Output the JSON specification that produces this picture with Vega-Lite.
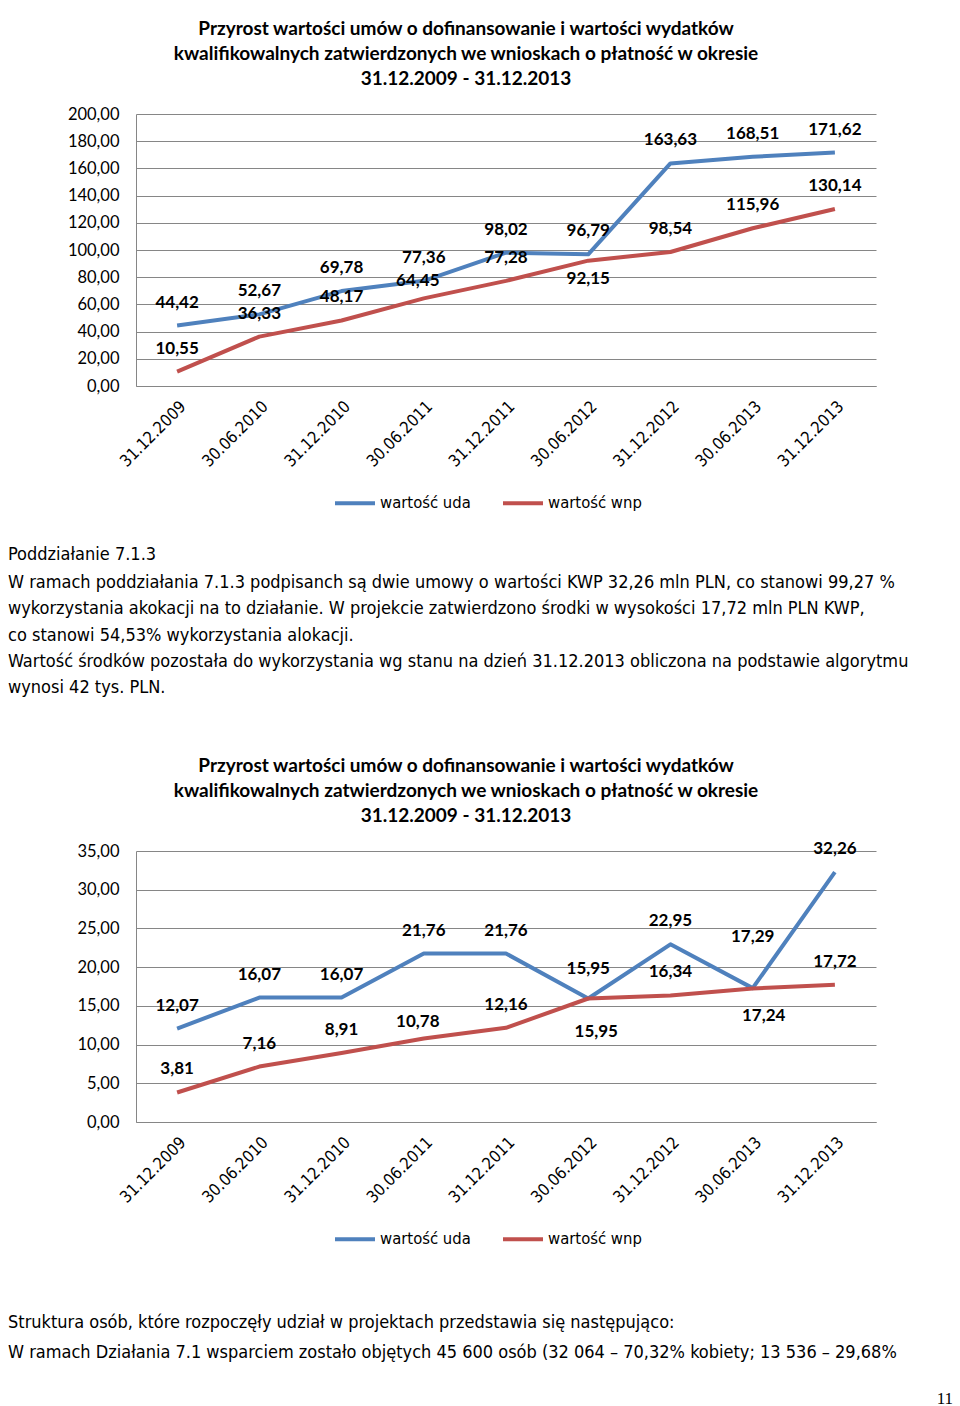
{
  "$schema": "https://vega.github.io/schema/vega-lite/v6.json",
  "padding": {"left": 8, "top": 20, "right": 0, "bottom": 0},
  "background": "white",
  "config": {
    "locale": {"number": {"decimal": ",", "thousands": " ", "grouping": [3], "currency": ["", " zł"]}},
    "view": {"stroke": null},
    "axisX": {"labelAngle": -45, "ticks": false, "domainColor": "#868686", "labelFont": "Liberation Sans Narrow, DejaVu Sans Condensed", "labelFontSize": 16.5, "labelColor": "black", "labelPadding": 12, "title": null},
    "axisY": {"ticks": false, "domainColor": "#868686", "gridColor": "#868686", "labelFont": "Lato", "labelFontSize": 16.5, "labelColor": "black", "labelPadding": 17},
    "legend": {"title": null, "symbolType": "stroke", "symbolStrokeWidth": 4, "symbolSize": 1600, "labelFont": "Liberation Sans Narrow, DejaVu Sans Condensed", "labelFontSize": 16.5, "labelColor": "black", "columnPadding": 24, "labelOffset": 3},
    "title": {"font": "Lato", "fontSize": 19, "fontWeight": "bold", "lineHeight": 25, "color": "black", "offset": 17, "dx": -40},
    "text": {"font": "Lato", "fontSize": 17, "fontWeight": "bold", "color": "black"}
  },
  "resolve": {"scale": {"color": "independent"}, "legend": {"color": "independent"}},
  "datasets": {
    "c1": [
      {"d": "31.12.2009", "s": "wartość uda", "v": 44.42},
      {"d": "30.06.2010", "s": "wartość uda", "v": 52.67},
      {"d": "31.12.2010", "s": "wartość uda", "v": 69.78},
      {"d": "30.06.2011", "s": "wartość uda", "v": 77.36},
      {"d": "31.12.2011", "s": "wartość uda", "v": 98.02},
      {"d": "30.06.2012", "s": "wartość uda", "v": 96.79},
      {"d": "31.12.2012", "s": "wartość uda", "v": 163.63},
      {"d": "30.06.2013", "s": "wartość uda", "v": 168.51},
      {"d": "31.12.2013", "s": "wartość uda", "v": 171.62},
      {"d": "31.12.2009", "s": "wartość wnp", "v": 10.55},
      {"d": "30.06.2010", "s": "wartość wnp", "v": 36.33},
      {"d": "31.12.2010", "s": "wartość wnp", "v": 48.17},
      {"d": "30.06.2011", "s": "wartość wnp", "v": 64.45},
      {"d": "31.12.2011", "s": "wartość wnp", "v": 77.28},
      {"d": "30.06.2012", "s": "wartość wnp", "v": 92.15},
      {"d": "31.12.2012", "s": "wartość wnp", "v": 98.54},
      {"d": "30.06.2013", "s": "wartość wnp", "v": 115.96},
      {"d": "31.12.2013", "s": "wartość wnp", "v": 130.14}
    ],
    "c2": [
      {"d": "31.12.2009", "s": "wartość uda", "v": 12.07},
      {"d": "30.06.2010", "s": "wartość uda", "v": 16.07},
      {"d": "31.12.2010", "s": "wartość uda", "v": 16.07},
      {"d": "30.06.2011", "s": "wartość uda", "v": 21.76},
      {"d": "31.12.2011", "s": "wartość uda", "v": 21.76},
      {"d": "30.06.2012", "s": "wartość uda", "v": 15.95},
      {"d": "31.12.2012", "s": "wartość uda", "v": 22.95},
      {"d": "30.06.2013", "s": "wartość uda", "v": 17.29},
      {"d": "31.12.2013", "s": "wartość uda", "v": 32.26},
      {"d": "31.12.2009", "s": "wartość wnp", "v": 3.81},
      {"d": "30.06.2010", "s": "wartość wnp", "v": 7.16},
      {"d": "31.12.2010", "s": "wartość wnp", "v": 8.91},
      {"d": "30.06.2011", "s": "wartość wnp", "v": 10.78},
      {"d": "31.12.2011", "s": "wartość wnp", "v": 12.16},
      {"d": "30.06.2012", "s": "wartość wnp", "v": 15.95},
      {"d": "31.12.2012", "s": "wartość wnp", "v": 16.34},
      {"d": "30.06.2013", "s": "wartość wnp", "v": 17.24},
      {"d": "31.12.2013", "s": "wartość wnp", "v": 17.72}
    ]
  },
  "spacing": 34,
  "vconcat": [
    {
      "width": 740,
      "height": 272,
      "data": {"name": "c1"},
      "title": {"text": ["Przyrost wartości umów o dofinansowanie i wartości wydatków", "kwalifikowalnych zatwierdzonych we wnioskach o płatność w okresie", "31.12.2009 - 31.12.2013"]},
      "encoding": {
        "x": {"field": "d", "type": "ordinal", "sort": null, "scale": {"type": "point", "padding": 0.5}},
        "y": {"field": "v", "type": "quantitative", "scale": {"domain": [0, 200]}, "axis": {"title": null, "values": [0, 20, 40, 60, 80, 100, 120, 140, 160, 180, 200], "format": ".2f"}}
      },
      "layer": [
        {
          "mark": {"type": "line", "strokeWidth": 4, "strokeJoin": "round"},
          "encoding": {"color": {"field": "s", "type": "nominal", "scale": {"domain": ["wartość uda", "wartość wnp"], "range": ["#4F81BD", "#C0504D"]}, "legend": {"orient": "none", "direction": "horizontal", "legendX": 197, "legendY": 367}}}
        },
        {
          "transform": [{"filter": "!(datum.s == 'wartość wnp' && (datum.d == '30.06.2012' || datum.d == '30.06.2011'))"}],
          "mark": {"type": "text", "dy": -23},
          "encoding": {"text": {"field": "v", "type": "quantitative", "format": ".2f"}}
        },
        {
          "transform": [{"filter": "datum.s == 'wartość wnp' && datum.d == '30.06.2011'"}],
          "mark": {"type": "text", "dy": -17, "dx": -6},
          "encoding": {"text": {"field": "v", "type": "quantitative", "format": ".2f"}}
        },
        {
          "transform": [{"filter": "datum.s == 'wartość wnp' && datum.d == '30.06.2012'"}],
          "mark": {"type": "text", "dy": 18},
          "encoding": {"text": {"field": "v", "type": "quantitative", "format": ".2f"}}
        }
      ]
    },
    {
      "width": 740,
      "height": 1,
      "data": {"values": []},
      "mark": "point",
      "title": {
        "text": "Poddziałanie 7.1.3",
        "subtitle": [
          "W ramach poddziałania 7.1.3 podpisanch są dwie umowy o wartości KWP 32,26 mln PLN, co stanowi 99,27 %",
          "wykorzystania akokacji na to działanie. W projekcie zatwierdzono środki w wysokości 17,72 mln PLN KWP,",
          "co stanowi 54,53% wykorzystania alokacji.",
          "Wartość środków pozostała do wykorzystania wg stanu na dzień 31.12.2013 obliczona na podstawie algorytmu",
          "wynosi 42 tys. PLN."
        ],
        "anchor": "start",
        "frame": "group",
        "dx": -128,
        "font": "Liberation Sans Narrow, DejaVu Sans Condensed",
        "fontSize": 18,
        "fontWeight": "normal",
        "subtitleFont": "Liberation Sans Narrow, DejaVu Sans Condensed",
        "subtitleFontSize": 18,
        "subtitleColor": "black",
        "subtitleLineHeight": 26.25,
        "subtitlePadding": 10,
        "offset": 25
      }
    },
    {
      "spacing": 66,
      "resolve": {"scale": {"color": "independent"}, "legend": {"color": "independent"}},
      "vconcat": [
        {
          "width": 740,
          "height": 271,
          "data": {"name": "c2"},
          "title": {"text": ["Przyrost wartości umów o dofinansowanie i wartości wydatków", "kwalifikowalnych zatwierdzonych we wnioskach o płatność w okresie", "31.12.2009 - 31.12.2013"], "offset": 14},
          "encoding": {
            "x": {"field": "d", "type": "ordinal", "sort": null, "scale": {"type": "point", "padding": 0.5}},
            "y": {"field": "v", "type": "quantitative", "scale": {"domain": [0, 35]}, "axis": {"title": null, "values": [0, 5, 10, 15, 20, 25, 30, 35], "format": ".2f"}}
          },
          "layer": [
            {
              "mark": {"type": "line", "strokeWidth": 4, "strokeJoin": "round"},
              "encoding": {"color": {"field": "s", "type": "nominal", "scale": {"domain": ["wartość uda", "wartość wnp"], "range": ["#4F81BD", "#C0504D"]}, "legend": {"orient": "none", "direction": "horizontal", "legendX": 197, "legendY": 366}}}
            },
            {
              "transform": [{"filter": "!(datum.s == 'wartość uda' && (datum.d == '30.06.2013' || datum.d == '30.06.2012')) && !(datum.s == 'wartość wnp' && (datum.d == '30.06.2011' || datum.d == '30.06.2012' || datum.d == '30.06.2013'))"}],
              "mark": {"type": "text", "dy": -23},
              "encoding": {"text": {"field": "v", "type": "quantitative", "format": ".2f"}}
            },
            {
              "transform": [{"filter": "datum.s == 'wartość uda' && datum.d == '30.06.2013'"}],
              "mark": {"type": "text", "dy": -51},
              "encoding": {"text": {"field": "v", "type": "quantitative", "format": ".2f"}}
            },
            {
              "transform": [{"filter": "datum.s == 'wartość uda' && datum.d == '30.06.2012'"}],
              "mark": {"type": "text", "dy": -30},
              "encoding": {"text": {"field": "v", "type": "quantitative", "format": ".2f"}}
            },
            {
              "transform": [{"filter": "datum.s == 'wartość wnp' && datum.d == '30.06.2011'"}],
              "mark": {"type": "text", "dy": -17, "dx": -6},
              "encoding": {"text": {"field": "v", "type": "quantitative", "format": ".2f"}}
            },
            {
              "transform": [{"filter": "datum.s == 'wartość wnp' && datum.d == '30.06.2012'"}],
              "mark": {"type": "text", "dy": 33, "dx": 8},
              "encoding": {"text": {"field": "v", "type": "quantitative", "format": ".2f"}}
            },
            {
              "transform": [{"filter": "datum.s == 'wartość wnp' && datum.d == '30.06.2013'"}],
              "mark": {"type": "text", "dy": 27, "dx": 11},
              "encoding": {"text": {"field": "v", "type": "quantitative", "format": ".2f"}}
            }
          ]
        },
        {
          "spacing": 27,
          "vconcat": [
            {
              "width": 740,
              "height": 1,
              "data": {"values": []},
              "mark": "point",
              "title": {
                "text": "Struktura osób, które rozpoczęły udział w projektach przedstawia się następująco:",
                "subtitle": ["W ramach Działania 7.1 wsparciem zostało objętych 45 600 osób (32 064 – 70,32% kobiety; 13 536 – 29,68%"],
                "anchor": "start",
                "frame": "group",
                "dx": -128,
                "font": "Liberation Sans Narrow, DejaVu Sans Condensed",
                "fontSize": 18,
                "fontWeight": "normal",
                "subtitleFont": "Liberation Sans Narrow, DejaVu Sans Condensed",
                "subtitleFontSize": 18,
                "subtitleColor": "black",
                "subtitlePadding": 12,
                "offset": 0
              }
            },
            {
              "width": 817,
              "height": 1,
              "data": {"values": []},
              "mark": "point",
              "title": {"text": "11", "anchor": "end", "frame": "group", "dx": 0, "font": "Liberation Serif", "fontSize": 17, "fontWeight": "normal", "offset": 0}
            }
          ]
        }
      ]
    }
  ]
}
